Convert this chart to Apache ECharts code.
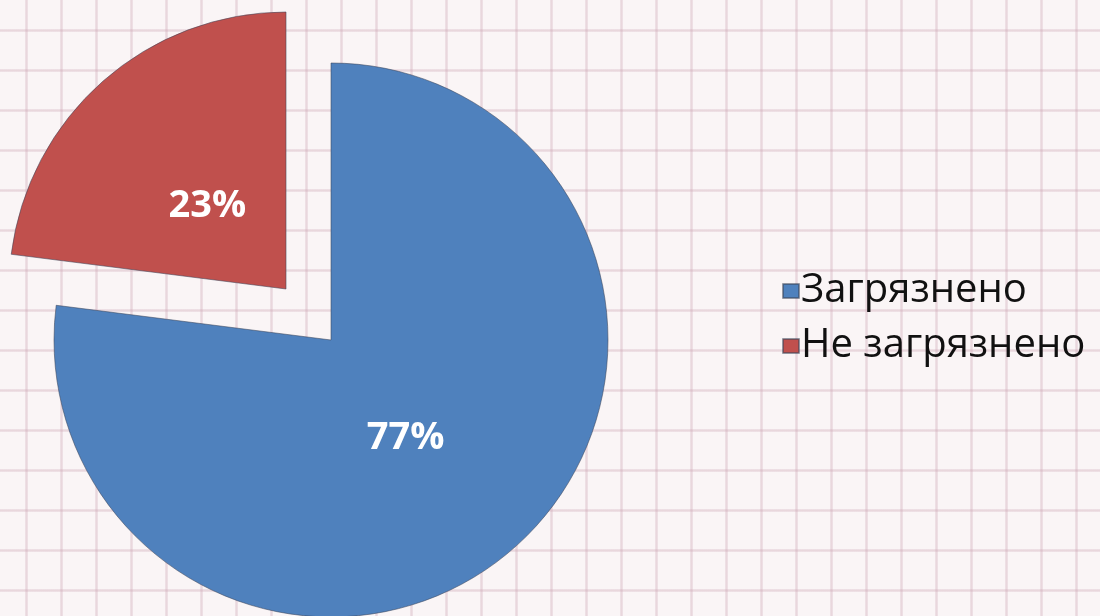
<!DOCTYPE html>
<html>
<head>
<meta charset="utf-8">
<script src="https://cdn.jsdelivr.net/npm/echarts@6/dist/echarts.min.js"></script>
<style>
html,body{margin:0;padding:0;width:1100px;height:616px;overflow:hidden;}
body{
  background-color:#faf5f6;
  background-image:
    linear-gradient(to right, rgba(215,175,190,0.18) 0px, rgba(205,165,180,0.38) 1px, rgba(205,165,180,0.38) 2px, rgba(215,175,190,0.18) 3px, transparent 3px),
    linear-gradient(to bottom, rgba(215,175,190,0.18) 0px, rgba(205,165,180,0.38) 1px, rgba(205,165,180,0.38) 2px, rgba(215,175,190,0.18) 3px, transparent 3px);
  background-size:35px 40px, 35px 40px;
  background-position:25px 0px, 0px 29px;
}
#chart{width:1100px;height:616px;}
</style>
</head>
<body>
<div id="chart"></div>
<script>
const categories = ['Загрязнено', 'Не загрязнено'];
const values = [77, 23];
const colors = ['#4f81bd', '#c0504d'];
const explodedIndex = 1;

const chart = echarts.init(document.getElementById('chart'), null, {renderer: 'canvas'});
const data = categories.map((name, i) => ({
  name: name,
  value: values[i],
  selected: i === explodedIndex,
  itemStyle: {color: colors[i]}
}));
const labelShift = [[-19, -8], [15, 23]];

chart.setOption({
  backgroundColor: 'transparent',
  animation: false,
  legend: {
    orient: 'vertical',
    left: 777,
    top: 266,
    itemWidth: 16,
    itemHeight: 14,
    itemGap: 15,
    icon: 'rect',
    selectedMode: false,
    textStyle: {
      fontFamily: 'Open Sans',
      fontSize: 40,
      color: '#111',
      lineHeight: 40,
      padding: [0, 0, 0, -3]
    },
    data: categories
  },
  series: [{
    type: 'pie',
    center: [331, 340],
    radius: 277,
    startAngle: 90,
    clockwise: true,
    selectedMode: 'single',
    selectedOffset: 68,
    avoidLabelOverlap: false,
    itemStyle: {borderColor: 'rgba(60,70,90,0.55)', borderWidth: 1},
    emphasis: {disabled: true},
    label: {
      show: true,
      position: 'inner',
      formatter: '{d}%',
      fontFamily: 'Open Sans',
      fontWeight: 'bold',
      fontSize: 38,
      color: '#ffffff'
    },
    labelLayout: function (p) {
      const s = labelShift[p.dataIndex];
      return {dx: s[0], dy: s[1]};
    },
    labelLine: {show: false},
    data: data
  }]
});
</script>
</body>
</html>
